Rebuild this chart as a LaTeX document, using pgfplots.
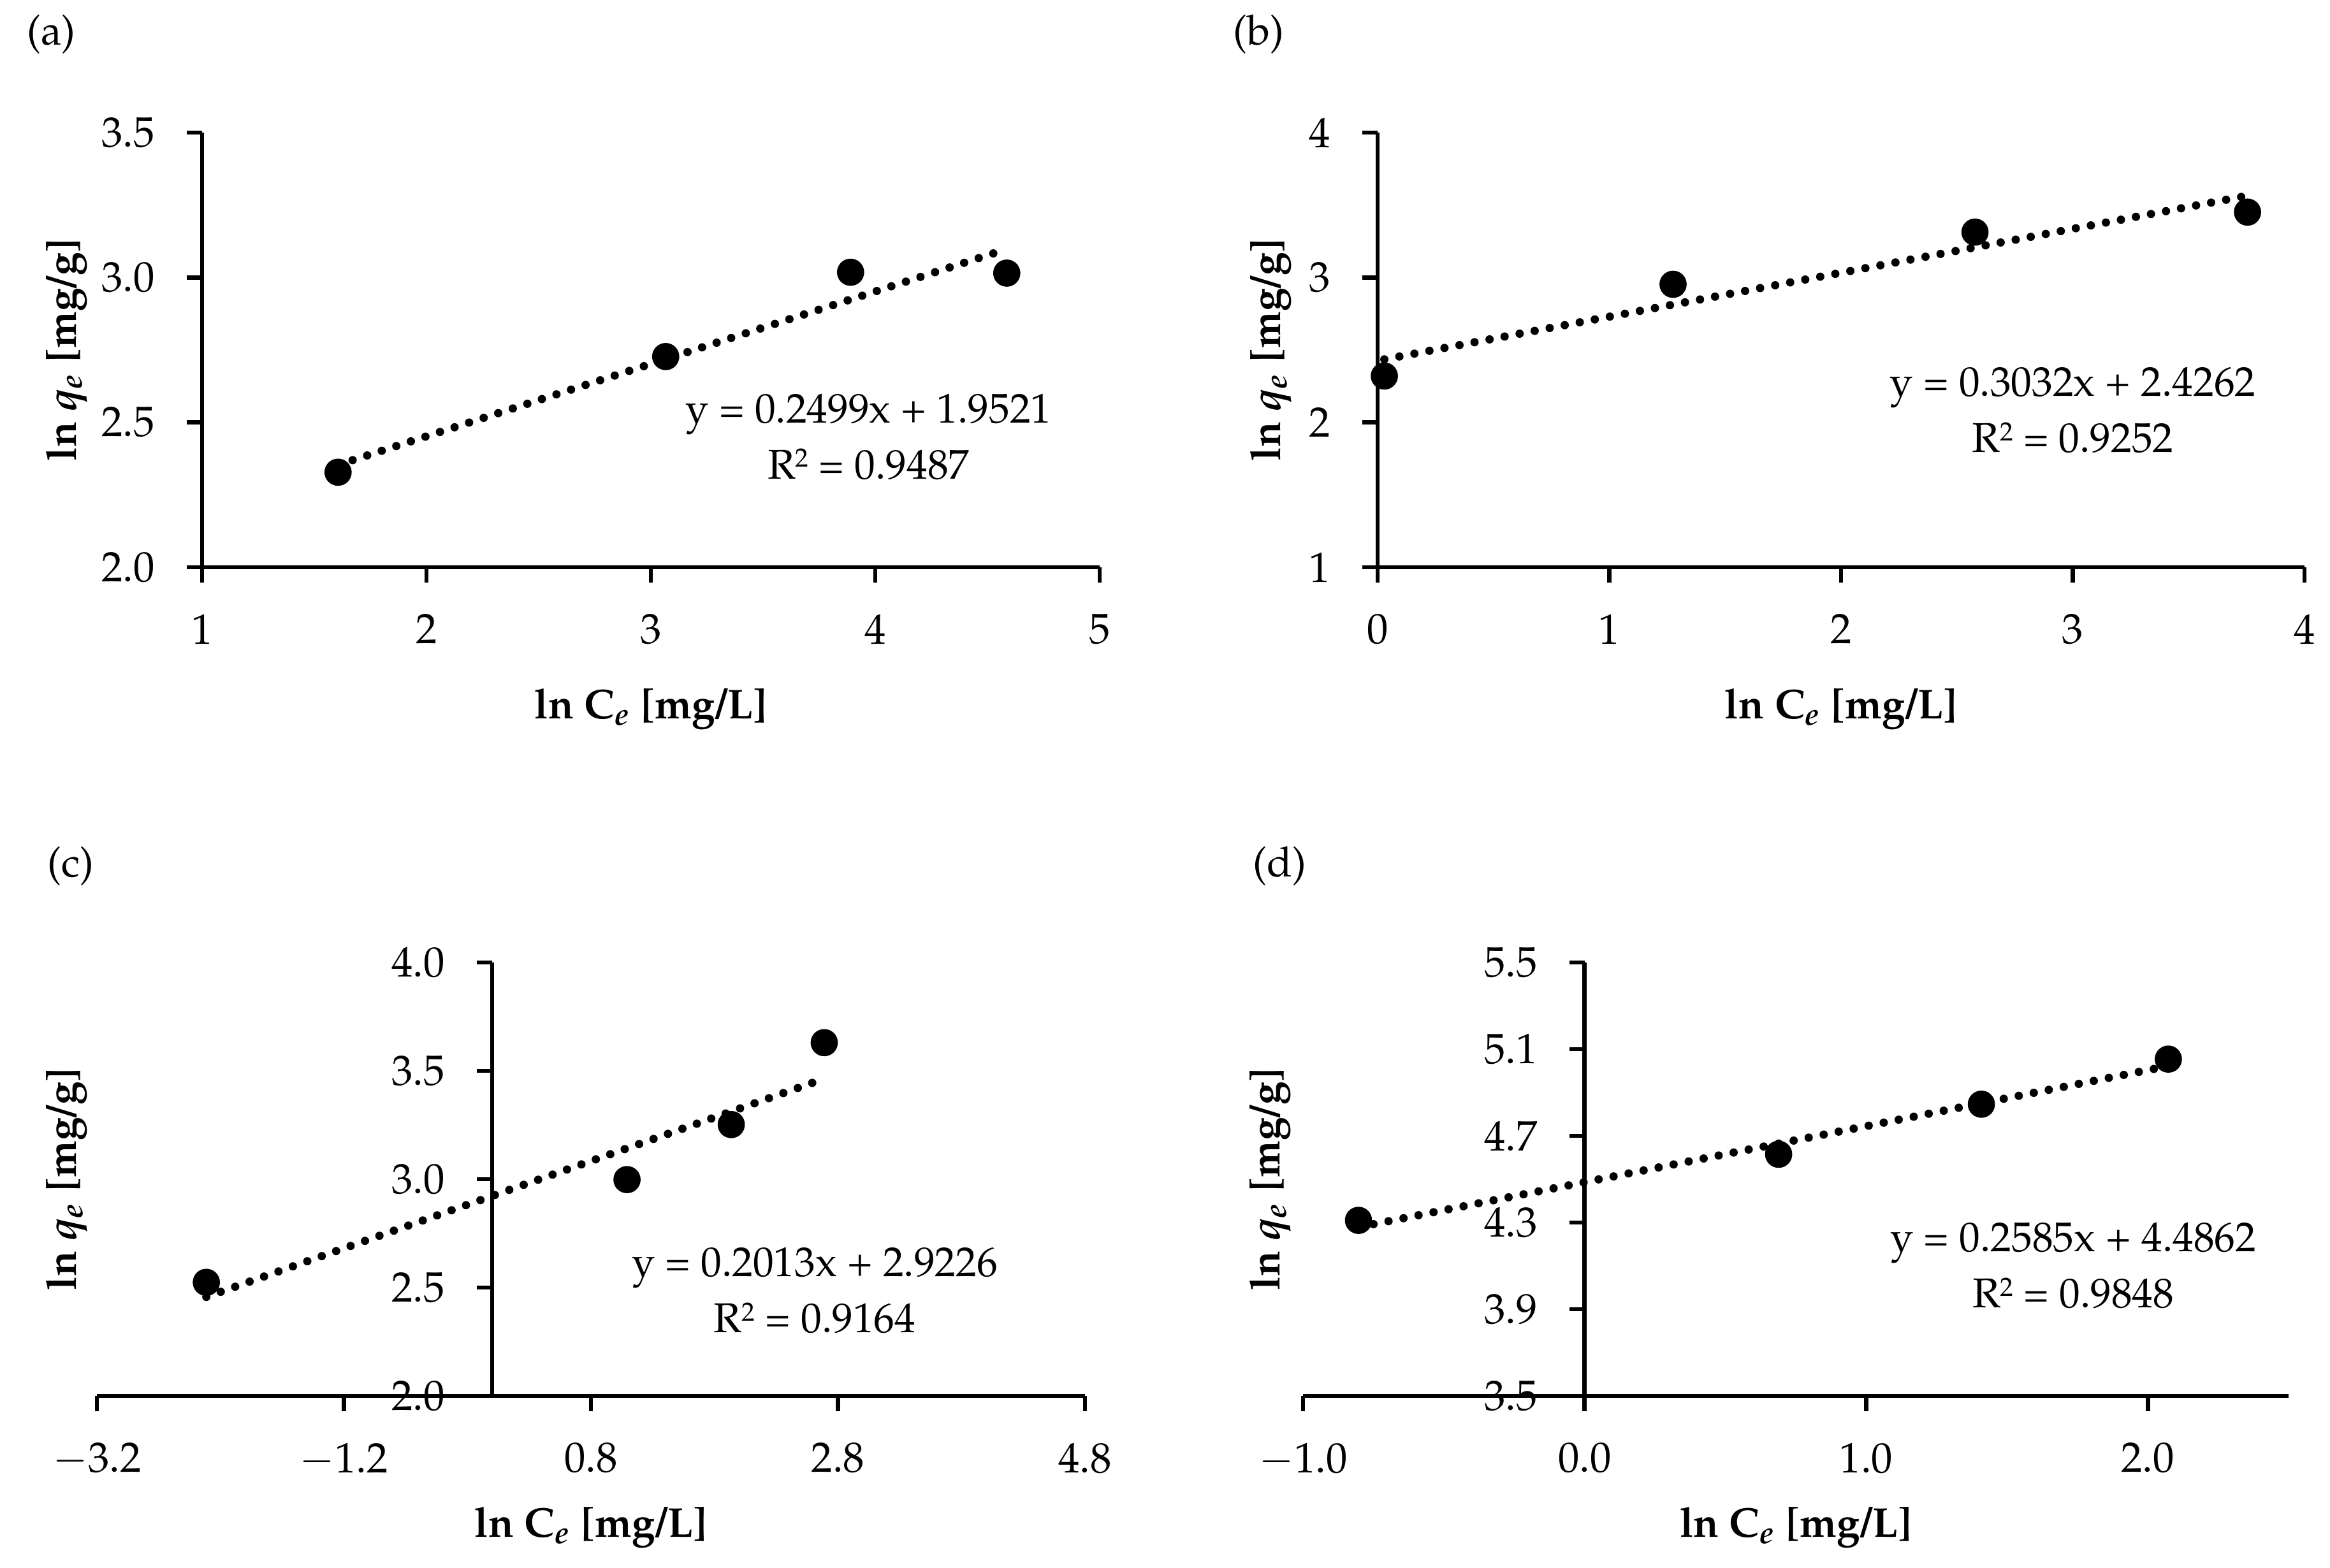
\documentclass[border=0pt]{standalone}
\usepackage[T1]{fontenc}
\usepackage{mathpazo}
\usepackage{pgfplots}
\pgfplotsset{compat=1.18}

\pgfplotsset{
  freund/.style={
    scale only axis,
    clip=false,
    enlargelimits=false,
    axis x line=bottom,
    major tick length=3.6pt,
    tick style={black, line width=1pt},
    minor tick num=0,
    hide obscured x ticks=false,
    hide obscured y ticks=false,
    xticklabel shift=4pt,
    yticklabel shift=4pt,
    tick label style={font=\fontsize{10}{12}\selectfont},
  },
  noarrows/.style={
    axis line style={-, line width=1pt},
    every outer x axis line/.append style={-},
    every outer y axis line/.append style={-},
    every inner x axis line/.append style={-},
    every inner y axis line/.append style={-},
    x axis line style={-}, y axis line style={-},
  },
  onedec/.style={/pgf/number format/.cd, fixed, fixed zerofill, precision=1},
  pts/.style={only marks, mark=*, mark size=3pt, black, mark options={fill=black}},
  trend/.style={black, line width=1.95pt, line cap=round, dash pattern=on 0pt off 3.6pt},
}

\newcommand{\ylab}{\textbf{ln \textit{q}\textsubscript{\textit{e}} [mg/g]}}
\newcommand{\xlab}{\textbf{ln C\textsubscript{\textit{e}} [mg/L]}}
\newcommand{\rsq}{R\raisebox{2.8pt}{\fontsize{6.2}{6}\selectfont 2}}

\begin{document}
\begin{tikzpicture}[font=\fontsize{9.8}{12}\selectfont]
\path[use as bounding box] (0,0) rectangle (548.25pt,369pt);

% (a)
\node[anchor=west] at (2.85pt,360.9pt) {(a)};
\begin{axis}[freund, at={(47.55pt,235.5pt)}, anchor=south west,
    width=211.2pt, height=102.3pt,
    axis y line=left, tick align=outside, noarrows,
    xmin=1, xmax=5, ymin=2, ymax=3.5,
    xtick={1,2,3,4,5}, ytick={2,2.5,3,3.5},
    yticklabel style={onedec}]
  \addplot[pts] coordinates {(1.606,2.328) (3.066,2.727) (3.890,3.018) (4.586,3.015)};
  \addplot[trend] coordinates {(1.606,2.3534) (4.586,3.0981)};
  \node[anchor=base] at (axis cs:3.97,2.499) {y = 0.2499x + 1.9521};
  \node[anchor=base] at (axis cs:3.97,2.305) {\rsq{} = 0.9487};
  \node[rotate=90] at (rel axis cs:-0.151,0.5) {\ylab};
  \node at (rel axis cs:0.5,-0.3255) {\xlab};
\end{axis}

% (b)
\node[anchor=west] at (286.7pt,360.9pt) {(b)};
\begin{axis}[freund, at={(324.15pt,235.5pt)}, anchor=south west,
    width=218.1pt, height=102.3pt,
    axis y line=left, tick align=outside, noarrows,
    xmin=0, xmax=4, ymin=1, ymax=4,
    xtick={0,1,2,3,4}, ytick={1,2,3,4}]
  \addplot[pts] coordinates {(0.029,2.320) (1.275,2.953) (2.578,3.313) (3.754,3.451)};
  \addplot[trend] coordinates {(0.029,2.4350) (3.754,3.5644)};
  \node[anchor=base] at (axis cs:3.0,2.179) {y = 0.3032x + 2.4262};
  \node[anchor=base] at (axis cs:3.0,1.792) {\rsq{} = 0.9252};
  \node[rotate=90] at (rel axis cs:-0.115,0.5) {\ylab};
  \node at (rel axis cs:0.5,-0.3255) {\xlab};
\end{axis}

% (c)
\node[anchor=west] at (7.7pt,165.2pt) {(c)};
\begin{axis}[freund, at={(22.8pt,40.5pt)}, anchor=south west,
    width=232.5pt, height=102pt,
    axis y line=middle, tick align=outside, noarrows,
    xmin=-3.2, xmax=4.8, ymin=2, ymax=4,
    xtick={-3.2,-1.2,0.8,2.8,4.8}, ytick={2,2.5,3,3.5,4},
    xticklabel style={onedec}, yticklabel style={onedec}]
  \addplot[pts] coordinates {(-2.314,2.524) (1.092,2.998) (1.936,3.252) (2.689,3.630)};
  \addplot[trend] coordinates {(-2.314,2.4568) (2.689,3.4639)};
  \node[anchor=base] at (axis cs:2.612,2.551) {y = 0.2013x + 2.9226};
  \node[anchor=base] at (axis cs:2.612,2.292) {\rsq{} = 0.9164};
  \node[rotate=90] at (rel axis cs:-0.0305,0.5) {\ylab};
  \node at (rel axis cs:0.5,-0.304) {\xlab};
\end{axis}

% (d)
\node[anchor=west] at (291.3pt,165.2pt) {(d)};
\begin{axis}[freund, at={(306.6pt,40.5pt)}, anchor=south west,
    width=231.9pt, height=102pt,
    axis y line=middle, tick align=outside, noarrows,
    xmin=-1, xmax=2.5, ymin=3.5, ymax=5.5,
    xtick={-1,0,1,2}, ytick={3.5,3.9,4.3,4.7,5.1,5.5},
    xticklabel style={onedec}, yticklabel style={onedec}]
  \addplot[pts] coordinates {(-0.803,4.310) (0.689,4.615) (1.409,4.846) (2.073,5.054)};
  \addplot[trend] coordinates {(-0.803,4.2786) (2.073,5.0221)};
  \node[anchor=base] at (axis cs:1.735,4.166) {y = 0.2585x + 4.4862};
  \node[anchor=base] at (axis cs:1.735,3.906) {\rsq{} = 0.9848};
  \node[rotate=90] at (rel axis cs:-0.033,0.5) {\ylab};
  \node at (rel axis cs:0.5,-0.304) {\xlab};
\end{axis}
\end{tikzpicture}
\end{document}
